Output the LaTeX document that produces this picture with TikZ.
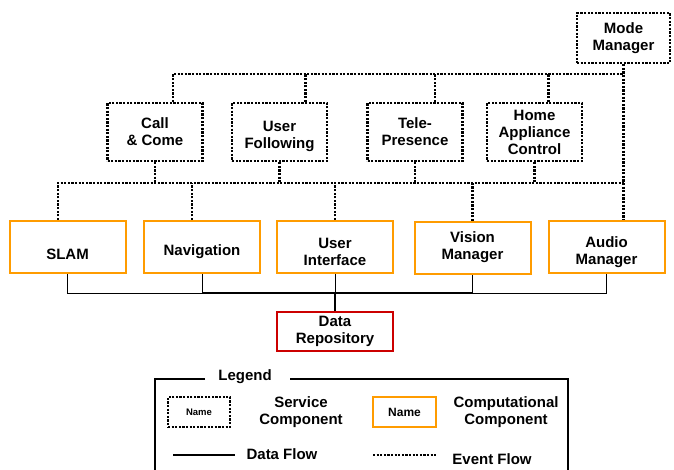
\documentclass[tikz,border=0pt]{standalone}
\usepackage{fontspec}
\setmainfont{Liberation Sans}
\usepackage{tikz}
\usetikzlibrary{calc}

\definecolor{compOrange}{RGB}{255,156,0}
\definecolor{repoRed}{RGB}{204,0,0}

\tikzset{
	evt/.style={line width=2.4pt, dash pattern=on 2.2pt off 1.4pt},
	svc/.style={draw, evt, minimum width=95pt, minimum height=58pt},
	comp/.style={draw=compOrange, line width=2pt, minimum width=116pt, minimum height=52pt},
	repo/.style={draw=repoRed, line width=1.8pt, minimum width=116pt, minimum height=39pt, align=center},
	dat/.style={line width=1pt},
	datmain/.style={line width=2.4pt},
	every label/.style={align=center},
}

\begin{document}
\begin{tikzpicture}[x=1pt, y=-1pt, font=\fontsize{15}{17}\selectfont\bfseries]
		\useasboundingbox (0,0) rectangle (674,470);

		% service components
		\node[svc, minimum width=93pt, minimum height=50pt, align=center] (mm) at (623.5,38) {Mode\\Manager};
		\foreach \nm/\cx/\dy/\txt in {cc/155/0/{Call\\\& Come}, uf/279.5/-4/{User\\Following}, tp/415/0/{Tele-\\Presence}, hac/534.5/0/{Home\\Appliance\\Control}} {
			\node[svc, label={[yshift=\dy pt]center:\txt}] (\nm) at (\cx,132) {};
		}

		% computational components
		\foreach \nm/\cx/\cy/\dy/\txt in {slam/67.5/247/-7/SLAM, nav/202/247/-5/Navigation, ui/335/247/-5/{User\\Interface}, vis/472.5/248/1/{Vision\\Manager}, aud/606.5/247/-5/{Audio\\Manager}} {
			\node[comp, label={[yshift=\dy pt]center:\txt}] (\nm) at (\cx,\cy) {};
		}
		\node[repo] (repo) at (335,331.5) {Data\\Repository};

		% event flow
		\coordinate (top) at (624,74);
		\coordinate (mid) at (624,183);
		\draw[evt] (mm.south) -- (mm.south |- aud.north);
		\draw[evt] ($(cc.north)+(18,0)$) |- (top);
		\foreach \nm/\dx in {uf/26, tp/20, hac/14} {
			\coordinate (\nm-up) at ($(\nm.north)+(\dx,0)$);
			\draw[evt] (\nm-up) -- (\nm-up |- top);
		}
		\coordinate (slam-up) at ($(slam.north)+(-9.5,0)$);
		\coordinate (nav-up) at ($(nav.north)+(-10,0)$);
		\draw[evt] (slam-up) |- (mid);
		\foreach \nm in {cc, uf, tp, hac} {
			\draw[evt] (\nm.south) -- (\nm.south |- mid);
		}
		\foreach \nm in {nav-up, ui.north, vis.north} {
			\draw[evt] (\nm) -- (\nm |- mid);
		}

		% data flow
		\coordinate (dj) at (335,293);
		\draw[dat] (slam.south) |- (dj) -| (aud.south);
		\draw[dat] (nav.south) -- (nav.south |- dj);
		\draw[dat] (vis.south) -- (vis.south |- dj);
		\draw[dat] (ui.south) -- (dj);
		\draw[datmain] (nav.south |- dj) -- (vis.south |- dj);
		\draw[datmain] (dj) -- (repo.north);

		% legend
		\node (legend) at (245,377) {Legend};
		\draw[line width=1.1pt] (205,379) -| (155,471);
		\draw[line width=1.1pt] (290,379) -| (568,471);
		\node[svc, minimum width=62pt, minimum height=30pt, font=\fontsize{9.5}{11}\selectfont\bfseries] (svc-key) at (199,412) {Name};
		\node[align=center] (svc-txt) at (301,412.5) {Service\\Component};
		\node[comp, minimum width=63pt, minimum height=30pt, font=\fontsize{12}{14}\selectfont\bfseries] (comp-key) at (404.5,412) {Name};
		\node[align=center] (comp-txt) at (506,412.5) {Computational\\Component};
		\coordinate (dat-a) at (173,455);
		\coordinate (dat-b) at (235,455);
		\draw[line width=1.3pt] (dat-a) -- (dat-b);
		\node (dat-txt) at (282,454) {Data Flow};
		\coordinate (evt-a) at (373,455);
		\coordinate (evt-b) at (436,455);
		\draw[evt] (evt-a) -- (evt-b);
		\node (evt-txt) at (492,459) {Event Flow};
	\end{tikzpicture}
\end{document}
